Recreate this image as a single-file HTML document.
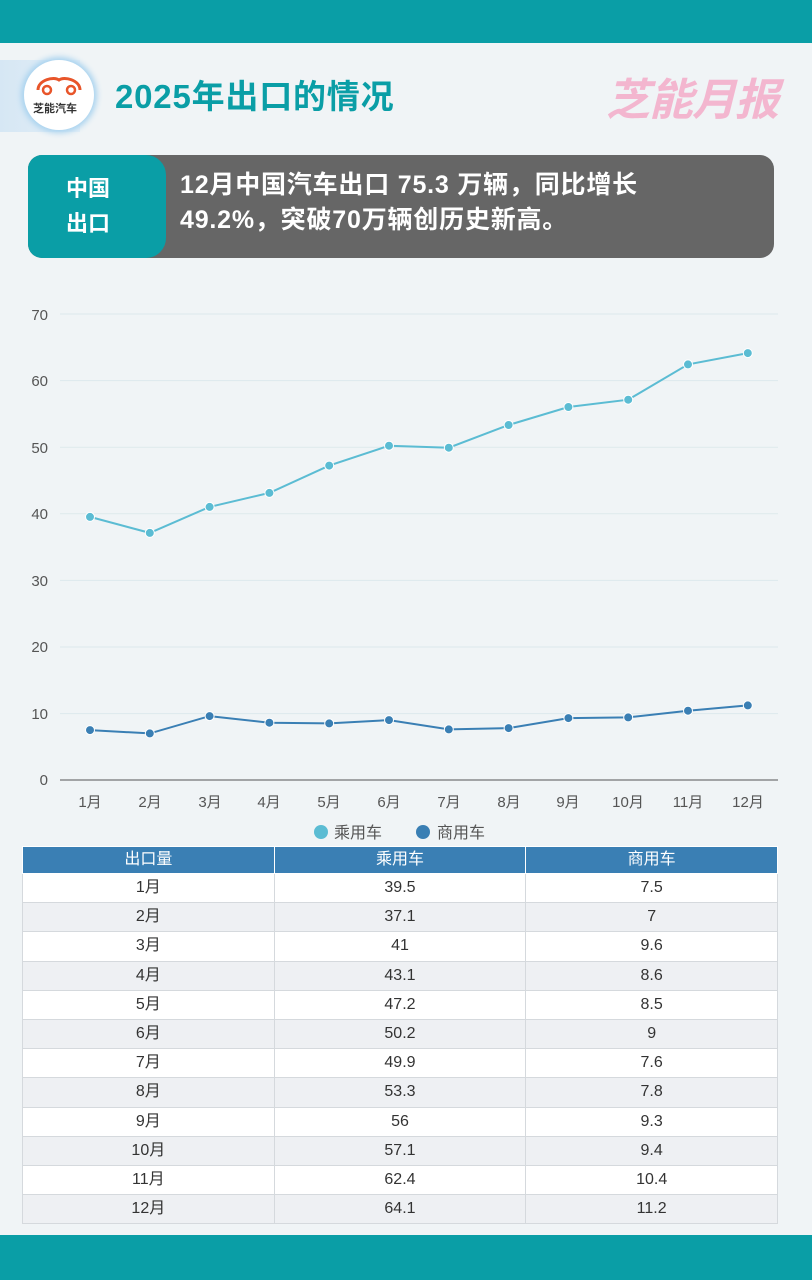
<!DOCTYPE html><html><head><meta charset="utf-8"><style>
body{margin:0;width:812px;height:1280px;background:#f0f4f6;position:relative;overflow:hidden;font-family:"Liberation Sans","Noto Sans CJK SC",sans-serif}
.a{position:absolute}
table{border-collapse:collapse;position:absolute;left:22px;top:846px;width:756px;font-size:16px;color:#333}
td,th{border:1px solid #d5d9dd;text-align:center;padding:0;height:28.2px;line-height:16px;vertical-align:middle}
th{background:#3a7fb4;color:#fff;font-weight:normal;height:26px;border-color:#fff}
tr:nth-child(odd) td{background:#eef0f3}tr:nth-child(even) td{background:#fff}
</style></head><body>
<div class="a" style="left:0;top:0;width:812px;height:43px;background:#0a9ea6"></div>
<div class="a" style="left:0;top:1235px;width:812px;height:45px;background:#0a9ea6"></div>
<div class="a" style="left:0;top:60px;width:80px;height:72px;background:linear-gradient(90deg,#d6e7f4,#e3eef7)"></div>
<div class="a" style="left:24px;top:60px;width:70px;height:70px;border-radius:50%;background:#fff;box-shadow:0 0 6px 3px #a9d3ef"></div>
<svg class="a" style="left:34px;top:72px" width="50" height="24"><path d="M4 18 C4 8,20 4,25 8 C30 4,46 8,46 18" fill="none" stroke="#e8552a" stroke-width="3"/><circle cx="13" cy="18" r="4" fill="none" stroke="#e8552a" stroke-width="2.5"/><circle cx="37" cy="18" r="4" fill="none" stroke="#e8552a" stroke-width="2.5"/></svg>
<div class="a" style="left:33px;top:100px;font-size:11px;color:#333;font-weight:bold">芝能汽车</div>
<div class="a" style="left:115px;top:70px;font-size:33px;letter-spacing:0.8px;font-weight:bold;color:#0a9ea6">2025年出口的情况</div>
<div class="a" style="left:606px;top:64px;font-size:44px;font-weight:bold;font-style:italic;color:#f3b6cf;letter-spacing:-1px">芝能月报</div>
<div class="a" style="left:28px;top:155px;width:746px;height:103px;border-radius:14px;background:#666"></div>
<div class="a" style="left:28px;top:155px;width:138px;height:103px;border-radius:14px 20px 20px 14px;background:#0a9ea6"></div>
<div class="a" style="left:66px;top:171px;font-size:22px;font-weight:bold;color:#fff;line-height:35px">中国<br>出口</div>
<div class="a" style="left:180px;top:168px;font-size:25px;letter-spacing:0.8px;font-weight:bold;color:#fff;line-height:35px;white-space:nowrap">12月中国汽车出口 75.3 万辆，同比增长<br>49.2%，突破70万辆创历史新高。</div>
<svg class="a" style="left:0;top:0" width="812" height="846" font-family="Liberation Sans,Noto Sans CJK SC,sans-serif">
<g stroke="#dde9ec" stroke-width="1"><line x1="60" x2="778" y1="314" y2="314"/><line x1="60" x2="778" y1="380.6" y2="380.6"/><line x1="60" x2="778" y1="447.2" y2="447.2"/><line x1="60" x2="778" y1="513.8" y2="513.8"/><line x1="60" x2="778" y1="580.4" y2="580.4"/><line x1="60" x2="778" y1="647" y2="647"/><line x1="60" x2="778" y1="713.6" y2="713.6"/></g>
<line x1="60" x2="778" y1="780" y2="780" stroke="#555"/>
<g font-size="15" fill="#555" text-anchor="end"><text x="48" y="320">70</text><text x="48" y="386">60</text><text x="48" y="453">50</text><text x="48" y="519">40</text><text x="48" y="586">30</text><text x="48" y="652">20</text><text x="48" y="719">10</text><text x="48" y="785">0</text></g>
<g font-size="15" fill="#555" text-anchor="middle"><text x="90" y="807">1月</text><text x="150" y="807">2月</text><text x="210" y="807">3月</text><text x="269" y="807">4月</text><text x="329" y="807">5月</text><text x="389" y="807">6月</text><text x="449" y="807">7月</text><text x="509" y="807">8月</text><text x="568" y="807">9月</text><text x="628" y="807">10月</text><text x="688" y="807">11月</text><text x="748" y="807">12月</text></g>
<polyline fill="none" stroke="#5bbcd3" stroke-width="2" points="90,516.9 149.8,532.9 209.6,506.9 269.4,492.9 329.2,465.6 389,445.7 448.8,447.7 508.6,425 568.4,407 628.2,399.7 688,364.4 747.8,353.1"/>
<g fill="#5bbcd3" stroke="#fff" stroke-width="1"><circle cx="90" cy="516.9" r="4.5"/><circle cx="149.8" cy="532.9" r="4.5"/><circle cx="209.6" cy="506.9" r="4.5"/><circle cx="269.4" cy="492.9" r="4.5"/><circle cx="329.2" cy="465.6" r="4.5"/><circle cx="389" cy="445.7" r="4.5"/><circle cx="448.8" cy="447.7" r="4.5"/><circle cx="508.6" cy="425" r="4.5"/><circle cx="568.4" cy="407" r="4.5"/><circle cx="628.2" cy="399.7" r="4.5"/><circle cx="688" cy="364.4" r="4.5"/><circle cx="747.8" cy="353.1" r="4.5"/></g>
<polyline fill="none" stroke="#3a7fb4" stroke-width="2" points="90,730.1 149.8,733.4 209.6,716.1 269.4,722.7 329.2,723.4 389,720.1 448.8,729.4 508.6,728.1 568.4,718.1 628.2,717.4 688,710.7 747.8,705.4"/>
<g fill="#3a7fb4" stroke="#fff" stroke-width="1"><circle cx="90" cy="730.1" r="4.5"/><circle cx="149.8" cy="733.4" r="4.5"/><circle cx="209.6" cy="716.1" r="4.5"/><circle cx="269.4" cy="722.7" r="4.5"/><circle cx="329.2" cy="723.4" r="4.5"/><circle cx="389" cy="720.1" r="4.5"/><circle cx="448.8" cy="729.4" r="4.5"/><circle cx="508.6" cy="728.1" r="4.5"/><circle cx="568.4" cy="718.1" r="4.5"/><circle cx="628.2" cy="717.4" r="4.5"/><circle cx="688" cy="710.7" r="4.5"/><circle cx="747.8" cy="705.4" r="4.5"/></g>
<circle cx="321" cy="832" r="7" fill="#5bbcd3"/><text x="334" y="838" font-size="16" fill="#555">乘用车</text>
<circle cx="423" cy="832" r="7" fill="#3a7fb4"/><text x="437" y="838" font-size="16" fill="#555">商用车</text>
</svg>
<table><tr><th>出口量</th><th>乘用车</th><th>商用车</th></tr>
<tr><td>1月</td><td>39.5</td><td>7.5</td></tr>
<tr><td>2月</td><td>37.1</td><td>7</td></tr>
<tr><td>3月</td><td>41</td><td>9.6</td></tr>
<tr><td>4月</td><td>43.1</td><td>8.6</td></tr>
<tr><td>5月</td><td>47.2</td><td>8.5</td></tr>
<tr><td>6月</td><td>50.2</td><td>9</td></tr>
<tr><td>7月</td><td>49.9</td><td>7.6</td></tr>
<tr><td>8月</td><td>53.3</td><td>7.8</td></tr>
<tr><td>9月</td><td>56</td><td>9.3</td></tr>
<tr><td>10月</td><td>57.1</td><td>9.4</td></tr>
<tr><td>11月</td><td>62.4</td><td>10.4</td></tr>
<tr><td>12月</td><td>64.1</td><td>11.2</td></tr>
</table>
</body></html>
